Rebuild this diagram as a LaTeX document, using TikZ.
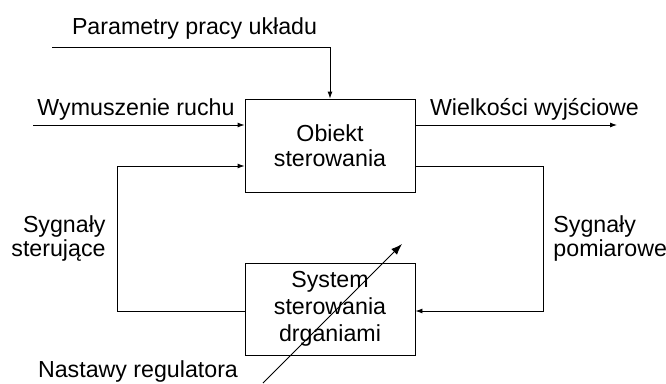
\documentclass[tikz,border=0pt]{standalone}
\usepackage{fontspec}
\setmainfont{Liberation Sans}
\usetikzlibrary{arrows.meta}
\begin{document}
\begin{tikzpicture}[x=1pt,y=-1pt,
  line width=0.9pt,
  arr/.style={-{Latex[length=7pt,width=5pt]}},
  bigarr/.style={-{Latex[length=11pt,width=8pt]}},
  blok/.style={draw,rectangle,minimum width=170pt,align=center,inner sep=0pt,
    font=\fontsize{23.2}{25}\selectfont},
  lbl/.style={inner sep=0pt,font=\fontsize{23.2}{24.5}\selectfont}]
\useasboundingbox (0,0) rectangle (666,383);
% boxes
\node[blok,minimum height=93pt] (obj) at (330,145.5) {Obiekt\\sterowania};
\node[blok,minimum height=92pt,font=\fontsize{23.2}{27}\selectfont] (sys) at (330,309) {System\\sterowania\\drganiami};
% labels
\node[lbl,anchor=base] (tpar) at (194.5,34) {Parametry pracy układu};
\node[lbl,anchor=base] (twym) at (136,115) {Wymuszenie ruchu};
\node[lbl,anchor=base] (twie) at (534.5,115) {Wielkości wyjściowe};
\node[lbl,anchor=north east,align=right] (tster) at (106,215) {Sygnały\\sterujące};
\node[lbl,anchor=north west,align=left] (tpom) at (553,215) {Sygnały\\pomiarowe};
\node[lbl,anchor=base] (tnas) at (138,377) {Nastawy regulatora};
% connector points
\coordinate (ps) at (52,47);
\coordinate (in) at (33,125);
\coordinate (out) at (617,125);
\coordinate (rt) at (543,166);
\coordinate (rb) at (543,311);
\coordinate (lb) at (117,311);
\coordinate (lt) at (117,166);
\coordinate (nb) at (263,383);
\coordinate (nt) at (402,244);
% connectors
\draw[arr] (ps) -| (obj.north);
\draw[arr] (in) -- (in -| obj.west);
\draw[arr] (obj.east |- out) -- (out);
\draw[arr] (obj.east |- rt) -- (rt) -- (rb) -- (sys.east |- rb);
\draw[arr] (sys.west |- lb) -- (lb) -- (lt) -- (obj.west |- lt);
\draw[bigarr] (nb) -- (nt);
\end{tikzpicture}
\end{document}
